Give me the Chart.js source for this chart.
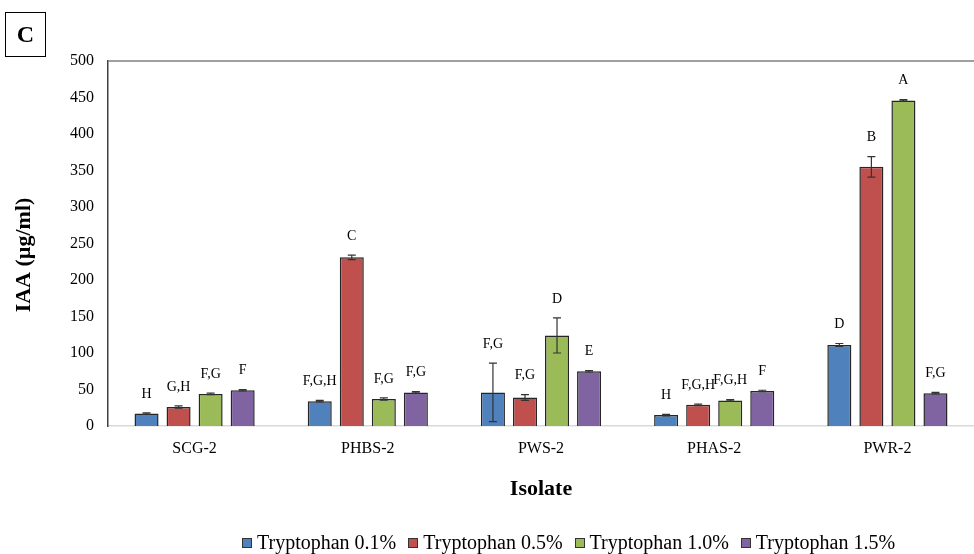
<!DOCTYPE html>
<html>
<head>
<meta charset="utf-8">
<script src="https://cdn.jsdelivr.net/npm/chart.js@4"></script>
<style>
  html, body { margin: 0; padding: 0; background: #fff; }
  #wrap { position: relative; width: 974px; height: 554px; font-family: "Liberation Serif", "Times New Roman", serif; }
  #panel { position: absolute; left: 5px; top: 12px; width: 39px; height: 43px; border: 1px solid #000;
           font-weight: bold; font-size: 24px; line-height: 43px; text-align: center; }
  #legend { position: absolute; left: 242px; top: 531px; font-size: 20px; white-space: nowrap; color: #000; }
  #legend span.item { display: inline-block; margin-right: 12px; }
  #legend span.sw { display: inline-block; width: 8px; height: 8px; border: 1px solid #333; margin-right: 5px; vertical-align: 1px; }
</style>
</head>
<body>
<div id="wrap">
  <canvas id="iaaChart" width="974" height="554"></canvas>
  <div id="panel">C</div>
  <div id="legend"></div>
</div>
<script>
// Aislados y concentraciones de triptofano
const isolates = ['SCG-2', 'PHBS-2', 'PWS-2', 'PHAS-2', 'PWR-2'];
const nombres = ['Tryptophan 0.1%', 'Tryptophan 0.5%', 'Tryptophan 1.0%', 'Tryptophan 1.5%'];
const colors = ['#4f81bd', '#c0504d', '#9bbb59', '#8064a2'];

// IAA (ug/ml) por aislado, una lista por concentracion
const trp01 = [17, 34, 46, 15, 111];
const trp05 = [26, 231, 39, 29, 355];
const trp10 = [44, 37, 124, 35, 446];
const trp15 = [49, 46, 75, 48, 45];

// desvio (barras de error)
const err01 = [1, 1, 40, 1, 2];
const err05 = [1.5, 3, 4, 1, 14];
const err10 = [1, 1.5, 24, 1, 1];
const err15 = [1, 1, 1, 1, 1];

// letras de significancia
const let01 = ['H', 'F,G,H', 'F,G', 'H', 'D'];
const let05 = ['G,H', 'C', 'F,G', 'F,G,H', 'B'];
const let10 = ['F,G', 'F,G', 'D', 'F,G,H', 'A'];
const let15 = ['F', 'F,G', 'E', 'F', 'F,G'];

const yTicks = [0, 50, 100, 150, 200, 250, 300, 350, 400, 450, 500];

const valores = [trp01, trp05, trp10, trp15];
const errores = [err01, err05, err10, err15];
const letras = [let01, let05, let10, let15];

const serif = '"Liberation Serif", "Times New Roman", serif';

const datasets = valores.map((v, i) => ({
    label: nombres[i],
    data: v,
    err: errores[i],
    letters: letras[i],
    backgroundColor: colors[i],
    borderColor: '#262626',
    borderWidth: 1.5,
    barPercentage: 0.75,
    categoryPercentage: 0.74
}));

// barras de error + letras arriba de cada barra
const errorBars = {
    id: 'errorBars',
    afterDatasetsDraw(chart) {
        const ctx = chart.ctx;
        const y = chart.scales.y;
        const a = chart.chartArea;
        ctx.save();
        chart.data.datasets.forEach((ds, di) => {
            const meta = chart.getDatasetMeta(di);
            meta.data.forEach((bar, j) => {
                const v = ds.data[j], e = ds.err[j];
                const yHi = y.getPixelForValue(v + e);
                const yLo = y.getPixelForValue(v - e);
                ctx.strokeStyle = '#333';
                ctx.lineWidth = 1.2;
                ctx.beginPath();
                ctx.moveTo(bar.x, yHi); ctx.lineTo(bar.x, yLo);
                ctx.moveTo(bar.x - 4, yHi); ctx.lineTo(bar.x + 4, yHi);
                ctx.moveTo(bar.x - 4, yLo); ctx.lineTo(bar.x + 4, yLo);
                ctx.stroke();
                ctx.fillStyle = '#000';
                ctx.font = '14px ' + serif;
                ctx.textAlign = 'center';
                ctx.textBaseline = 'middle';
                ctx.fillText(ds.letters[j], bar.x, yHi - 19);
            });
        });
        // linea superior del area del grafico
        ctx.strokeStyle = '#7f7f7f';
        ctx.lineWidth = 1.5;
        ctx.beginPath();
        ctx.moveTo(a.left, a.top); ctx.lineTo(a.right, a.top);
        ctx.stroke();
        // titulo del eje y (un poco mas abajo que el centro del area)
        ctx.translate(24, 255);
        ctx.rotate(-Math.PI / 2);
        ctx.font = 'bold 22px ' + serif;
        ctx.fillStyle = '#000';
        ctx.textAlign = 'center';
        ctx.textBaseline = 'middle';
        ctx.fillText('IAA (µg/ml)', 0, 0);
        ctx.restore();
    }
};

const iaaConfig = {
    type: 'bar',
    data: { labels: isolates, datasets: datasets },
    options: {
        responsive: false,
        animation: false,
        layout: { padding: { top: 61, right: 0, bottom: 48, left: 0 } },
        plugins: {
            legend: { display: false },
            tooltip: { enabled: false }
        },
        scales: {
            x: {
                grid: { display: false, drawTicks: false },
                border: { color: '#d9d9d9', width: 1.5 },
                ticks: { color: '#000', font: { family: serif, size: 16 }, padding: 13 },
                title: { display: true, text: 'Isolate', color: '#000',
                         font: { family: serif, size: 22, weight: 'bold' }, padding: { top: 0, bottom: 3 } },
                afterFit(scale) { scale.height = 80; }
            },
            y: {
                min: 0,
                max: 500,
                afterBuildTicks(scale) { scale.ticks = yTicks.map(v => ({ value: v })); },
                grid: { display: false, drawTicks: false },
                border: { color: '#404040', width: 1.5 },
                ticks: { color: '#000', font: { family: serif, size: 16 }, padding: 14 },
                afterFit(scale) { scale.width = 108; }
            }
        }
    },
    plugins: [errorBars]
};

const iaaChart = new Chart(document.getElementById('iaaChart'), iaaConfig);

// leyenda abajo
const legend = document.getElementById('legend');
nombres.forEach((n, i) => {
    const item = document.createElement('span');
    item.className = 'item';
    item.innerHTML = '<span class="sw" style="background:' + colors[i] + '"></span>' + n;
    legend.appendChild(item);
});
</script>
</body>
</html>
